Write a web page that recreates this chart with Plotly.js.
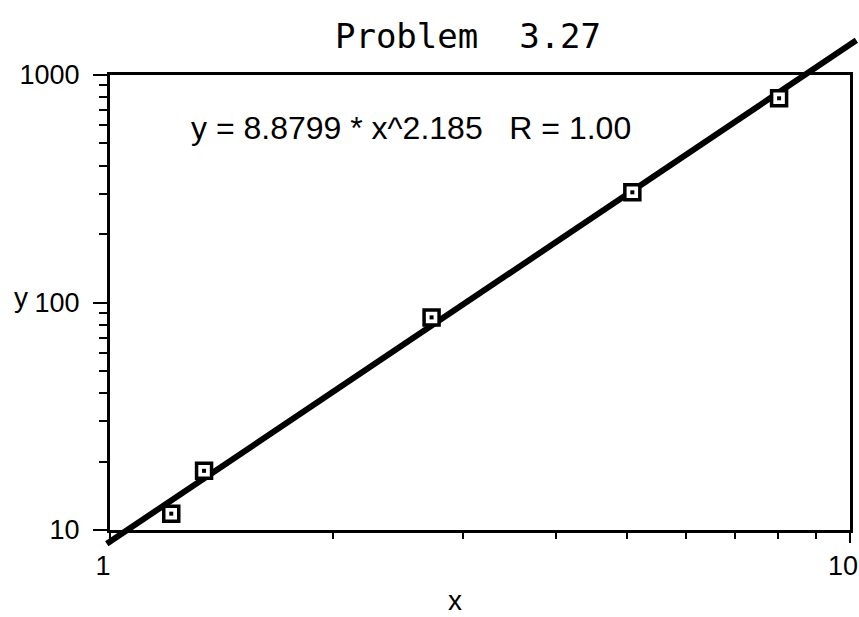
<!DOCTYPE html>
<html>
<head>
<meta charset="utf-8">
<script src="https://cdn.plot.ly/plotly-3.0.1.min.js"></script>
<style>
  html, body { margin: 0; padding: 0; background: #fff; }
  #chart { width: 859px; height: 617px; }
</style>
</head>
<body>
<div id="chart"></div>
<script>
// measured points
var xData = [1.21, 1.34, 2.72, 5.08, 8.02];
var yData = [11.8, 18.2, 86, 305, 790];

// ends of the fitted power line
var fitX = [0.99, 10.2];
var fitY = [8.7, 1420];

var xTicks = [1, 10];
var xTickText = ['1', '10'];
var yTicks = [10, 100, 1000];
var yTickText = ['10', '100', '1000'];
var xMinor = [2, 3, 4, 5, 6, 7, 8, 9];
var yMinor = [20, 30, 40, 50, 60, 70, 80, 90, 200, 300, 400, 500, 600, 700, 800, 900];

var W = 859, H = 617;
// frame edges in pixels (not "top": that name is taken by window.top)
var padL = 110, padR = 850, padT = 75, padB = 530;
var xr = [0, 1], yr = [1, 3];   // log10 ranges of the frame

// the fit line sits on a full-page pair of axes with the same scale,
// so it can run past the frame like in the original
var xPer = (xr[1] - xr[0]) / (padR - padL);
var yPer = (yr[1] - yr[0]) / (padB - padT);
var xFull = [xr[0] - padL * xPer, xr[1] + (W - padR) * xPer];
var yFull = [yr[0] - (H - padB) * yPer, yr[1] + padT * yPer];

var fit = {
  x: fitX,
  y: fitY,
  xaxis: 'x',
  yaxis: 'y',
  mode: 'lines',
  line: {color: '#000', width: 6},
  hoverinfo: 'none'
};

var pts = {
  x: xData,
  y: yData,
  xaxis: 'x2',
  yaxis: 'y2',
  mode: 'markers',
  marker: {symbol: 'square', size: 15, color: '#fff',
           line: {color: '#000', width: 3.5}},
  cliponaxis: false,
  hoverinfo: 'x+y'
};

// the small dot inside each square
var dots = {
  x: xData,
  y: yData,
  xaxis: 'x2',
  yaxis: 'y2',
  mode: 'markers',
  marker: {symbol: 'square', size: 4, color: '#000', line: {width: 0}},
  cliponaxis: false,
  hoverinfo: 'skip'
};

var tickFont = {family: 'Liberation Sans, Arial, sans-serif', size: 27, color: '#000'};

var layout = {
  width: W,
  height: H,
  margin: {l: 0, r: 0, t: 0, b: 0},
  paper_bgcolor: '#fff',
  plot_bgcolor: 'rgba(0,0,0,0)',
  showlegend: false,
  title: {
    text: 'Problem  3.27',
    font: {family: 'DejaVu Sans Mono, monospace', size: 34, color: '#000'},
    xref: 'paper', yref: 'paper',
    x: 468 / W, y: 1 - 36 / H,
    xanchor: 'center', yanchor: 'middle'
  },
  xaxis: {
    type: 'log', range: xFull, autorange: false, domain: [0, 1], anchor: 'y',
    visible: false, showgrid: false, zeroline: false, fixedrange: true
  },
  yaxis: {
    type: 'log', range: yFull, autorange: false, domain: [0, 1], anchor: 'x',
    visible: false, showgrid: false, zeroline: false, fixedrange: true
  },
  xaxis2: {
    type: 'log',
    range: xr, autorange: false,
    domain: [padL / W, padR / W],
    anchor: 'y2',
    showline: true, linecolor: '#000', linewidth: 3, mirror: true,
    showgrid: false, zeroline: false,
    tickmode: 'array', tickvals: xTicks, ticktext: xTickText,
    ticks: 'outside', ticklen: 10, tickwidth: 2, tickcolor: '#000',
    ticklabelstandoff: 0,
    ticklabelshift: -7,
    ticklabeloverflow: 'allow',
    tickfont: tickFont,
    minor: {tickmode: 'array', tickvals: xMinor, ticks: 'outside',
            ticklen: 6, tickwidth: 2, tickcolor: '#000', showgrid: false},
    fixedrange: true
  },
  yaxis2: {
    type: 'log',
    range: yr, autorange: false,
    domain: [1 - padB / H, 1 - padT / H],
    anchor: 'x2',
    showline: true, linecolor: '#000', linewidth: 3, mirror: true,
    showgrid: false, zeroline: false,
    tickmode: 'array', tickvals: yTicks, ticktext: yTickText,
    ticks: 'outside', ticklen: 14, tickwidth: 2, tickcolor: '#000',
    ticklabelstandoff: 8,
    tickfont: tickFont,
    minor: {tickmode: 'array', tickvals: yMinor, ticks: 'outside',
            ticklen: 8, tickwidth: 2, tickcolor: '#000', showgrid: false},
    fixedrange: true
  },
  annotations: [
    {
      text: 'y = 8.8799 * x^2.185   R = 1.00',
      xref: 'paper', yref: 'paper',
      x: 411 / W, y: 1 - 128 / H,
      xanchor: 'center', yanchor: 'middle',
      showarrow: false,
      font: {family: 'Liberation Sans, Arial, sans-serif', size: 32, color: '#000'}
    },
    {
      text: 'y',
      xref: 'paper', yref: 'paper',
      x: 21 / W, y: 1 - 298 / H,
      xanchor: 'center', yanchor: 'middle',
      showarrow: false,
      font: {family: 'Liberation Sans, Arial, sans-serif', size: 28, color: '#000'}
    },
    {
      text: 'x',
      xref: 'paper', yref: 'paper',
      x: 455 / W, y: 1 - 600 / H,
      xanchor: 'center', yanchor: 'middle',
      showarrow: false,
      font: {family: 'Liberation Sans, Arial, sans-serif', size: 28, color: '#000'}
    }
  ]
};

Plotly.newPlot('chart', [fit, pts, dots], layout, {displayModeBar: false, staticPlot: true});
</script>
</body>
</html>
